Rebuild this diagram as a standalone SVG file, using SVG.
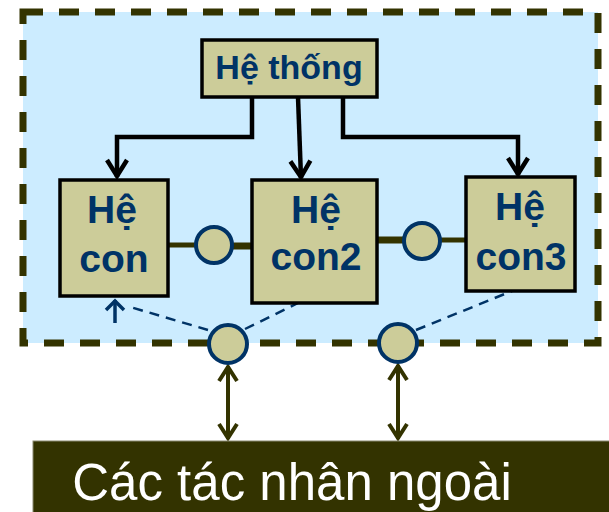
<svg xmlns="http://www.w3.org/2000/svg" width="609" height="512" viewBox="0 0 609 512">
  <style>
    .box { fill: #CCCC99; stroke: #000000; stroke-width: 3.5; }
    .lbl { font-family: "Liberation Sans", Arial, sans-serif; font-weight: bold; fill: #003366; text-anchor: middle; }
    .port { fill: #CCCC99; stroke: #003366; stroke-width: 4; }
    .tree { fill: none; stroke: #000000; stroke-width: 4.5; stroke-linejoin: miter; marker-end: url(#chev); }
    .link { stroke: #333300; stroke-width: 6; }
    .dash { fill: none; stroke: #003366; stroke-width: 2.5; stroke-dasharray: 10 7; }
    .ext { stroke: #333300; stroke-width: 4; marker-start: url(#chevExt); marker-end: url(#chevExt); }
  </style>
  <defs>
    <marker id="chev" markerUnits="userSpaceOnUse" markerWidth="26" markerHeight="26" viewBox="0 0 26 26" refX="20" refY="13" orient="auto">
      <path d="M3,3 L19,13 L3,23" fill="none" stroke="#000000" stroke-width="4.5" stroke-linejoin="miter"/>
    </marker>
    <marker id="chevExt" markerUnits="userSpaceOnUse" markerWidth="24" markerHeight="24" viewBox="0 0 24 24" refX="18" refY="12" orient="auto-start-reverse">
      <path d="M3,3 L17,12 L3,21" fill="none" stroke="#333300" stroke-width="4" stroke-linejoin="miter"/>
    </marker>
    <marker id="chevBlue" markerUnits="userSpaceOnUse" markerWidth="24" markerHeight="24" viewBox="0 0 24 24" refX="16" refY="12" orient="auto">
      <path d="M6,3 L15,12 L6,21" fill="none" stroke="#003366" stroke-width="3.5"/>
    </marker>
  </defs>

  <!-- system boundary -->
  <g id="boundary">
    <rect x="23" y="12" width="575" height="331" fill="#CCECFF"/>
    <rect x="23" y="12" width="575" height="331" fill="none" stroke="#333300" stroke-width="7" stroke-dasharray="20 16"/>
  </g>

  <!-- connectors -->
  <g id="connectors">
    <polyline class="tree" points="252,97 252,137 117,137 117,177"/>
    <line class="tree" x1="298" y1="97" x2="301" y2="178"/>
    <polyline class="tree" points="343,97 343,137 518,137 518,175"/>

    <line class="link" x1="168" y1="245" x2="200" y2="245" style="stroke-width:5"/>
    <line class="link" x1="230" y1="246" x2="252" y2="246" style="stroke-width:7"/>
    <line class="link" x1="377" y1="240" x2="406" y2="240" style="stroke-width:7"/>
    <line class="link" x1="438" y1="240" x2="466" y2="240" style="stroke-width:5"/>

    <line class="dash" x1="208" y1="330" x2="127" y2="306"/>
    <line x1="115" y1="323" x2="115" y2="300" stroke="#003366" stroke-width="3.5" marker-end="url(#chevBlue)"/>
    <line class="dash" x1="245" y1="329" x2="298" y2="303"/>
    <line class="dash" x1="416" y1="330" x2="512" y2="291"/>

    <line class="ext" x1="228" y1="366" x2="228" y2="439"/>
    <line class="ext" x1="398" y1="365" x2="398" y2="439"/>
  </g>

  <!-- nodes -->
  <g id="he-thong">
    <rect class="box" x="202" y="40" width="175" height="57"/>
    <text class="lbl" x="289" y="79" font-size="34">Hệ thống</text>
  </g>

  <g id="he-con">
    <rect class="box" x="60" y="180" width="108" height="116"/>
    <text class="lbl" x="112" y="223" font-size="39">Hệ</text>
    <text class="lbl" x="114" y="272" font-size="39">con</text>
  </g>

  <g id="he-con2">
    <rect class="box" x="252" y="180" width="125" height="123"/>
    <text class="lbl" x="316" y="223" font-size="39">Hệ</text>
    <text class="lbl" x="316" y="270" font-size="39">con2</text>
  </g>

  <g id="he-con3">
    <rect class="box" x="466" y="177" width="109" height="114"/>
    <text class="lbl" x="520" y="220" font-size="39">Hệ</text>
    <text class="lbl" x="521" y="270" font-size="39">con3</text>
  </g>

  <g id="port-1"><circle class="port" cx="214" cy="245" r="18"/></g>
  <g id="port-2"><circle class="port" cx="422" cy="241" r="18"/></g>
  <g id="port-3"><circle class="port" cx="228" cy="344" r="19"/></g>
  <g id="port-4"><circle class="port" cx="398" cy="343" r="19"/></g>

  <g id="tac-nhan-ngoai">
    <rect x="33" y="441" width="580" height="75" fill="#333300" stroke="#8a8a70" stroke-width="1"/>
    <text x="292" y="500" font-family="'Liberation Sans', Arial, sans-serif" font-size="51" fill="#FFFFFF" text-anchor="middle">Các tác nhân ngoài</text>
  </g>
</svg>
